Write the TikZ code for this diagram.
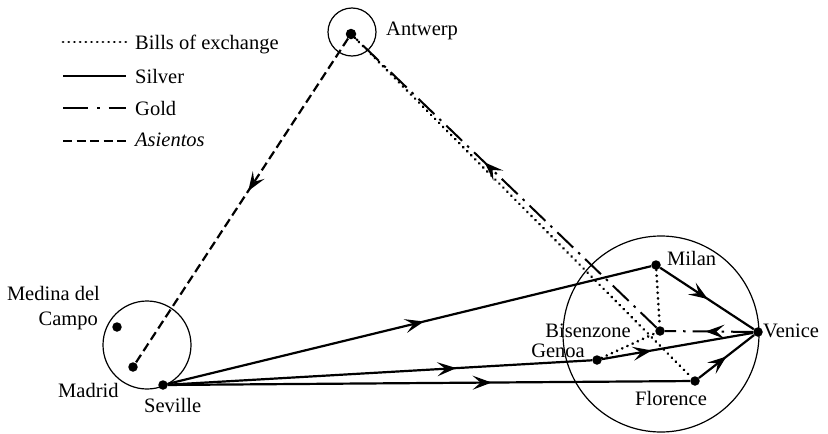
\documentclass[tikz,border=0pt]{standalone}
\usepackage{fontspec}
\setmainfont{Liberation Serif}
\usetikzlibrary{arrows.meta,decorations.markings}
\begin{document}
\begin{tikzpicture}[x=1pt,y=-1pt,
  lbl/.style={font=\fontsize{20.5}{24}\selectfont, inner sep=0pt},
  dot/.style={circle,fill=black,inner sep=0pt,minimum size=9.5pt},
  ring/.style={circle,draw,line width=1.2pt,inner sep=0pt},
  silver/.style={line width=2.2pt},
  bills/.style={line width=2.9pt, dash pattern=on 0.1pt off 5.6pt, line cap=round},
  gold/.style={line width=2pt, dash pattern=on 22pt off 7pt on 2.5pt off 7pt},
  asientos/.style={line width=2.2pt, dash pattern=on 9pt off 4.5pt},
  midarrow/.style={postaction={decorate},decoration={markings,mark=at position #1 with {\pgfsetdash{}{0pt}\arrow{Stealth[length=19pt,width=14pt,inset=8pt]}}}},
]
\useasboundingbox (0,0) rectangle (828,434);

% rings
\node[ring, minimum size=48pt] (antwerpring) at (352,32) {};
\node[ring, minimum size=88pt] (spainring) at (147,345) {};
\node[ring, minimum size=196pt] (italyring) at (661,334) {};

% cities
\node[dot, minimum size=10.5pt] (antwerp) at (351,34) {};
\node[dot] (madrid) at (133,367) {};
\node[dot] (medina) at (117,327) {};
\node[dot] (seville) at (163,385) {};
\node[dot] (milan) at (656,265) {};
\node[dot] (bisenzone) at (660,331) {};
\node[dot] (venice) at (758,332) {};
\node[dot] (genoa) at (597,360) {};
\node[dot] (florence) at (695,381) {};

% connectors
\draw[asientos, midarrow=0.47] (antwerp) -- (madrid);
\draw[bills] (antwerp) -- (florence);
\draw[gold, midarrow=0.57] (bisenzone) -- (antwerp);
\draw[gold, midarrow=0.54] (venice) -- (bisenzone);
\draw[bills] (milan) -- (bisenzone);
\draw[bills] (genoa) -- (bisenzone);
\draw[silver, midarrow=0.53] (seville) -- (milan);
\draw[silver, midarrow=0.68] (seville) -- (genoa);
\draw[silver, midarrow=0.62] (seville) -- (florence);
\draw[silver, midarrow=0.51] (milan) -- (venice);
\draw[silver, midarrow=0.33] (genoa) -- (venice);
\draw[silver, midarrow=0.5] (florence) -- (venice);

% labels
\node[lbl, anchor=base west] (tantwerp) at (386,35) {Antwerp};
\node[lbl, anchor=base east] (tmedina) at (100,300) {Medina del};
\node[lbl, anchor=base east] (tcampo) at (98,325) {Campo};
\node[lbl, anchor=base west] (tmadrid) at (58,397) {Madrid};
\node[lbl, anchor=base west] (tseville) at (144,412) {Seville};
\node[lbl, anchor=base west] (tmilan) at (667,265) {Milan};
\node[lbl, anchor=base west] (tvenice) at (763,337) {Venice};
\node[lbl, anchor=base east] (tbisenzone) at (631,337) {Bisenzone};
\node[lbl, anchor=base east] (tgenoa) at (585,357) {Genoa};
\node[lbl, anchor=base west] (tflorence) at (635,405) {Florence};

% legend
\coordinate (la1) at (63,42);  \coordinate (lb1) at (126,42);
\coordinate (la2) at (63,76);  \coordinate (lb2) at (126,76);
\coordinate (la3) at (63,108); \coordinate (lb3) at (126,108);
\coordinate (la4) at (63,141); \coordinate (lb4) at (126,141);
\draw[bills] (la1) -- (lb1);
\draw[silver] (la2) -- (lb2);
\draw[line width=2pt, dash pattern=on 25pt off 9pt on 2.5pt off 9pt] (la3) -- (lb3);
\draw[asientos] (la4) -- (lb4);
\node[lbl, anchor=base west] (tbills) at (135,49) {Bills of exchange};
\node[lbl, anchor=base west] (tsilver) at (135,83) {Silver};
\node[lbl, anchor=base west] (tgold) at (135,115) {Gold};
\node[lbl, anchor=base west] (tasientos) at (135,146.5) {\itshape Asientos};
\end{tikzpicture}
\end{document}
